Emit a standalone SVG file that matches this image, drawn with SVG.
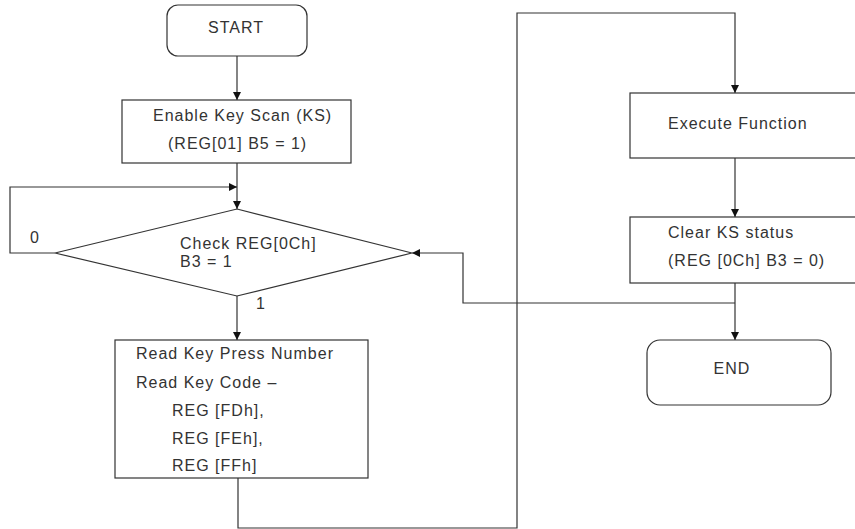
<svg xmlns="http://www.w3.org/2000/svg" width="855" height="529" viewBox="0 0 855 529">
<style>
.box{fill:#fff;stroke:#333;stroke-width:1.2}
.t{font-family:"Liberation Sans",Arial,sans-serif;font-size:16px;letter-spacing:1px;fill:#333}
.c{text-anchor:middle}
.ln{fill:none;stroke:#333;stroke-width:1.2}
</style>
<defs>
<marker id="ah" viewBox="0 0 10 10" refX="10" refY="5" markerWidth="8" markerHeight="8" markerUnits="userSpaceOnUse" orient="auto">
<path d="M0,0 L10,5 L0,10 Z" fill="#111"/>
</marker>
</defs>
<rect width="855" height="529" fill="#fff"/>
<g id="connectors">
<path class="ln" d="M237,56 V100" marker-end="url(#ah)"/>
<path class="ln" d="M237,163 V209" marker-end="url(#ah)"/>
<path class="ln" d="M55,253 H10 V187 H237" marker-end="url(#ah)"/>
<path class="ln" d="M237,296 V340" marker-end="url(#ah)"/>
<path class="ln" d="M238,478 V528 H517 V13 H735 V93" marker-end="url(#ah)"/>
<path class="ln" d="M735,158 V217" marker-end="url(#ah)"/>
<path class="ln" d="M735,283 V340" marker-end="url(#ah)"/>
<path class="ln" d="M735,303 H463 V253 H412" marker-end="url(#ah)"/>
<text class="t" x="30" y="243">0</text>
<text class="t" x="256" y="309">1</text>
</g>
<g id="start">
<rect class="box" x="167" y="5" width="140" height="51" rx="11"/>
<text class="t c" x="236" y="33">START</text>
</g>
<g id="enable">
<rect class="box" x="122" y="100" width="229" height="63"/>
<text class="t" x="153" y="121">Enable Key Scan (KS)</text>
<text class="t" x="168" y="149">(REG[01] B5 = 1)</text>
</g>
<g id="check">
<polygon class="box" points="237,209 412,253 237,296 55,253"/>
<text class="t" x="180" y="249">Check REG[0Ch]</text>
<text class="t" x="180" y="267">B3 = 1</text>
</g>
<g id="read">
<rect class="box" x="115" y="340" width="253" height="138"/>
<text class="t" x="136" y="359">Read Key Press Number</text>
<text class="t" x="136" y="388">Read Key Code –</text>
<text class="t" x="172" y="416">REG [FDh],</text>
<text class="t" x="172" y="444">REG [FEh],</text>
<text class="t" x="172" y="471">REG [FFh]</text>
</g>
<g id="execute">
<rect class="box" x="630" y="93" width="240" height="65"/>
<text class="t" x="668" y="129">Execute Function</text>
</g>
<g id="clear">
<rect class="box" x="630" y="217" width="240" height="66"/>
<text class="t" x="668" y="238">Clear KS status</text>
<text class="t" x="668" y="266">(REG [0Ch] B3 = 0)</text>
</g>
<g id="end">
<rect class="box" x="647" y="340" width="184" height="65" rx="13"/>
<text class="t c" x="732" y="374">END</text>
</g>
</svg>
